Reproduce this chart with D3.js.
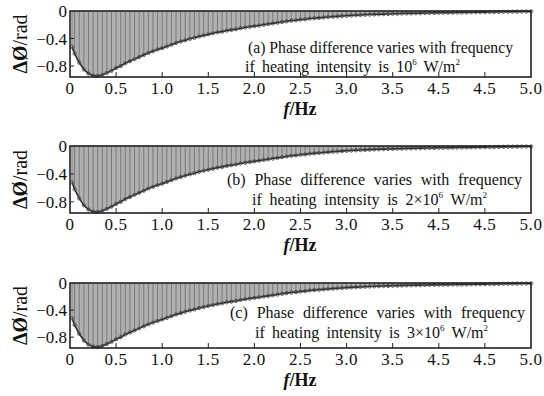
<!DOCTYPE html>
<html>
<head>
  <meta charset="utf-8">
  <script src="https://d3js.org/d3.v7.min.js"></script>
  <style>
    body { margin: 0; background: #fff; }
    svg text { fill: #111; }
  </style>
</head>
<body>
<div id="chart"></div>
<script>
  // frequency (Hz) and phase difference (rad)
  const freq = [0.02, 0.05, 0.10, 0.15, 0.20, 0.25, 0.30, 0.35, 0.40, 0.45, 0.50,
    0.55, 0.60, 0.65, 0.70, 0.75, 0.80, 0.85, 0.90, 0.95, 1.00,
    1.05, 1.10, 1.15, 1.20, 1.25, 1.30, 1.35, 1.40, 1.45, 1.50,
    1.55, 1.60, 1.65, 1.70, 1.75, 1.80, 1.85, 1.90, 1.95, 2.00,
    2.05, 2.10, 2.15, 2.20, 2.25, 2.30, 2.35, 2.40, 2.45, 2.50,
    2.55, 2.60, 2.65, 2.70, 2.75, 2.80, 2.85, 2.90, 2.95, 3.00,
    3.05, 3.10, 3.15, 3.20, 3.25, 3.30, 3.35, 3.40, 3.45, 3.50,
    3.55, 3.60, 3.65, 3.70, 3.75, 3.80, 3.85, 3.90, 3.95, 4.00,
    4.05, 4.10, 4.15, 4.20, 4.25, 4.30, 4.35, 4.40, 4.45, 4.50,
    4.55, 4.60, 4.65, 4.70, 4.75, 4.80, 4.85, 4.90, 4.95, 5.00];

  const phase = [-0.52, -0.62, -0.75, -0.85, -0.91, -0.94, -0.945, -0.93, -0.90, -0.87, -0.83,
    -0.80, -0.76, -0.73, -0.70, -0.67, -0.64, -0.61, -0.585, -0.56, -0.54,
    -0.515, -0.49, -0.465, -0.445, -0.425, -0.405, -0.39, -0.37, -0.355, -0.34,
    -0.325, -0.31, -0.30, -0.285, -0.275, -0.265, -0.25, -0.24, -0.23, -0.22,
    -0.21, -0.20, -0.19, -0.18, -0.17, -0.16, -0.15, -0.14, -0.135, -0.125,
    -0.12, -0.11, -0.105, -0.10, -0.094, -0.088, -0.083, -0.078, -0.073, -0.069,
    -0.065, -0.061, -0.058, -0.055, -0.052, -0.049, -0.047, -0.045, -0.043, -0.041,
    -0.039, -0.037, -0.035, -0.034, -0.032, -0.031, -0.029, -0.028, -0.027, -0.026,
    -0.025, -0.024, -0.023, -0.022, -0.021, -0.020, -0.019, -0.018, -0.017, -0.016,
    -0.015, -0.014, -0.013, -0.012, -0.011, -0.010, -0.009, -0.008, -0.007, -0.006];

  const xTicks = [0, 0.5, 1.0, 1.5, 2.0, 2.5, 3.0, 3.5, 4.0, 4.5, 5.0];
  // the original figure prints 4.5 twice
  const xTickLabels = ["0", "0.5", "1.0", "1.5", "2.0", "2.5", "3.0", "3.5", "4.5", "4.5", "5.0"];
  const yTicks = [0, -0.4, -0.8];
  const yTickLabels = ["0", "\u22120.4", "\u22120.8"];

  const panelTags = ["(a)", "(b)", "(c)"];
  const intensityPrefix = ["", "2\u00d7", "3\u00d7"];

  const width = 544;
  const height = 396;
  const serif = "Liberation Serif, DejaVu Serif, Noto Serif, Tinos, Liberation Sans, serif";

  // box + caption placement for each panel
  const layout = [
    { top: 11, bottom: 77, l1: [248, 513, 42], l2: [245, 460, 61] },
    { top: 146, bottom: 213, l1: [227, 522, 39], l2: [252, 487, 59] },
    { top: 283, bottom: 348, l1: [230, 525, 35], l2: [255, 488, 55] }
  ];

  const svg = d3.select("#chart").append("svg")
    .attr("width", width)
    .attr("height", height)
    .style("font-family", serif);

  const x = d3.scaleLinear().domain([0, 5]).range([70, 531]);
  const data = freq.map((f, i) => [f, phase[i]]);

  // stretch the gaps between words, or squeeze the line if it is too long
  function fitWords(sel, target) {
    const node = sel.node();
    const natural = node.getComputedTextLength();
    const spaces = (node.textContent.match(/ /g) || []).length;
    if (natural > target) {
      sel.attr("textLength", target).attr("lengthAdjust", "spacingAndGlyphs");
    } else if (spaces > 0) {
      sel.attr("word-spacing", ((target - natural) / spaces).toFixed(2));
    }
  }

  layout.forEach((p, k) => {
    const y = d3.scaleLinear().domain([-0.96, 0]).range([p.bottom, p.top]);
    const g = svg.append("g");

    // grey hatch between zero and the curve
    g.append("path")
      .datum(data)
      .attr("fill", "#b0b0b0")
      .attr("d", d3.area().x(d => x(d[0])).y0(y(0)).y1(d => y(d[1])));

    g.selectAll("line.hatch")
      .data(data)
      .join("line")
      .attr("class", "hatch")
      .attr("x1", d => x(d[0])).attr("x2", d => x(d[0]))
      .attr("y1", y(0)).attr("y2", d => y(d[1]))
      .attr("stroke", "#7a7a7a")
      .attr("stroke-width", 1);

    g.append("path")
      .datum(data)
      .attr("fill", "none")
      .attr("stroke", "#2e2e2e")
      .attr("stroke-width", 1.6)
      .attr("d", d3.line().x(d => x(d[0])).y(d => y(d[1])));

    g.selectAll("circle")
      .data(data)
      .join("circle")
      .attr("cx", d => x(d[0]))
      .attr("cy", d => y(d[1]))
      .attr("r", 1.7)
      .attr("fill", "none")
      .attr("stroke", "#444")
      .attr("stroke-width", 0.8);

    // frame
    g.append("rect")
      .attr("x", x(0)).attr("y", p.top)
      .attr("width", x(5) - x(0)).attr("height", p.bottom - p.top)
      .attr("fill", "none")
      .attr("stroke", "#222")
      .attr("stroke-width", 1.6);

    // inward ticks
    g.selectAll("line.xt")
      .data(xTicks.slice(1, -1))
      .join("line")
      .attr("class", "xt")
      .attr("x1", d => x(d)).attr("x2", d => x(d))
      .attr("y1", p.bottom).attr("y2", p.bottom - 5)
      .attr("stroke", "#222");

    g.selectAll("line.yt")
      .data(yTicks.slice(1))
      .join("line")
      .attr("class", "yt")
      .attr("x1", x(0)).attr("x2", x(0) + 4)
      .attr("y1", d => y(d)).attr("y2", d => y(d))
      .attr("stroke", "#222");

    g.selectAll("text.xl")
      .data(xTicks)
      .join("text")
      .attr("class", "xl")
      .attr("x", d => x(d))
      .attr("y", p.bottom + 17)
      .attr("text-anchor", "middle")
      .style("font-size", "17px")
      .style("letter-spacing", "0.6px")
      .text((d, i) => xTickLabels[i]);

    g.selectAll("text.yl")
      .data(yTicks)
      .join("text")
      .attr("class", "yl")
      .attr("x", 67)
      .attr("y", d => y(d) + 6)
      .attr("text-anchor", "end")
      .style("font-size", "17px")
      .text((d, i) => yTickLabels[i]);

    // axis titles
    const xt = g.append("text")
      .attr("x", 300)
      .attr("y", p.bottom + 38)
      .attr("text-anchor", "middle")
      .style("font-size", "18px")
      .style("font-weight", "bold");
    xt.append("tspan").style("font-style", "italic").text("f");
    xt.append("tspan").text("/Hz");

    const mid = (p.top + p.bottom) / 2;
    const yt = g.append("text")
      .attr("transform", `translate(27, ${mid}) rotate(-90)`)
      .attr("text-anchor", "middle")
      .style("font-size", "20px");
    yt.append("tspan").style("font-weight", "bold").text("\u0394\u00d8");
    yt.append("tspan").text("/rad");

    // caption
    const c1 = g.append("text")
      .attr("x", p.l1[0])
      .attr("y", p.top + p.l1[2])
      .style("font-size", "16px")
      .text(`${panelTags[k]} Phase difference varies with frequency`);
    fitWords(c1, p.l1[1] - p.l1[0]);

    const c2 = g.append("text")
      .attr("x", p.l2[0])
      .attr("y", p.top + p.l2[2])
      .style("font-size", "16px");
    c2.append("tspan").text(`if heating intensity is ${intensityPrefix[k]}10`);
    c2.append("tspan").attr("dy", -7).style("font-size", "9px").text("6");
    c2.append("tspan").attr("dy", 7).text(" W/m");
    c2.append("tspan").attr("dy", -7).style("font-size", "9px").text("2");
    fitWords(c2, p.l2[1] - p.l2[0]);
  });
</script>
</body>
</html>
